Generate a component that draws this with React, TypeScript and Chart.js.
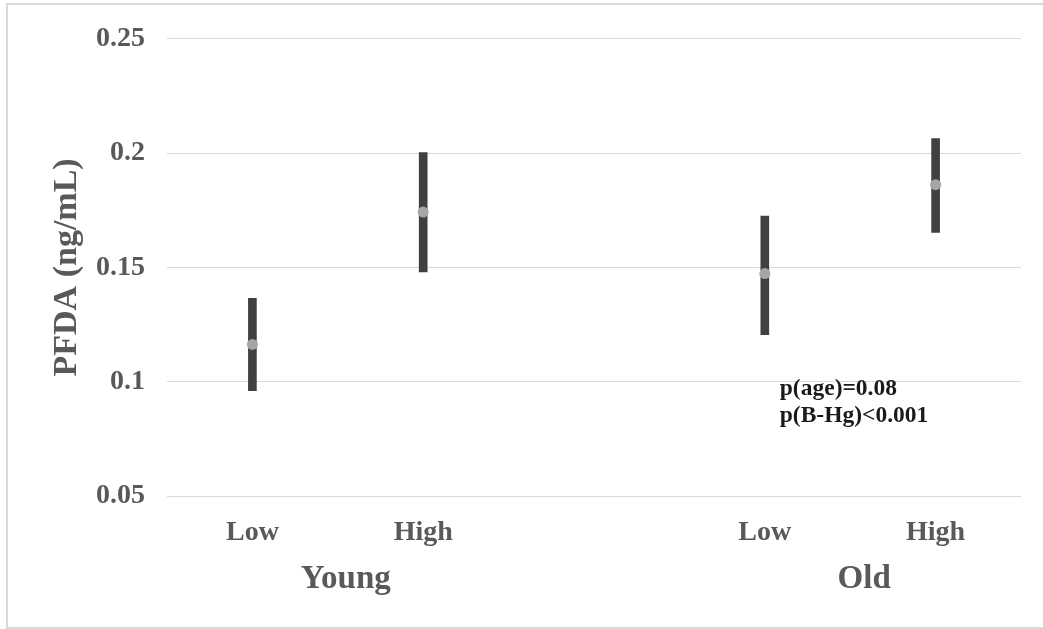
import React, { useEffect, useRef } from "react";
import { Chart, registerables } from "chart.js";

Chart.register(...registerables);

const categories = ["Low", "High", "Low", "High"];
const groups = ["Young", "Old"];
const means = [0.1163, 0.1742, 0.1473, 0.1862];
const lower = [0.0961, 0.148, 0.1206, 0.1653];
const upper = [0.1365, 0.2002, 0.1725, 0.2064];
const yTicks = [0.05, 0.1, 0.15, 0.2, 0.25];
const annotationLines = ["p(age)=0.08", "p(B-Hg)<0.001"];
const yTitle = "PFDA (ng/mL)";

const FONT = "'Liberation Serif', 'Times New Roman', serif";
const GREY_TEXT = "#595959";

// Insert an empty slot between the two groups
const withGap = <T,>(arr: T[], gap: T): T[] => [arr[0], arr[1], gap, arr[2], arr[3]];

const labels = withGap(categories, "");
const barData = withGap(
  categories.map((_, i) => [lower[i], upper[i]] as [number, number]),
  null as any
);
const meanData = withGap(means, null as any);

const groupShift = [8, 14];

const overlayPlugin = {
  id: "overlay",
  afterDraw(chart: any) {
    const { ctx, chartArea } = chart;
    const x = chart.scales.x;
    const y = chart.scales.y;
    ctx.save();
    ctx.fillStyle = GREY_TEXT;
    ctx.font = `bold 33px ${FONT}`;
    ctx.textAlign = "center";
    ctx.textBaseline = "alphabetic";
    groups.forEach((g, i) => {
      const a = x.getPixelForValue(i * 3);
      const b = x.getPixelForValue(i * 3 + 1);
      ctx.fillText(g, (a + b) / 2 + groupShift[i], chartArea.bottom + 92);
    });
    ctx.fillStyle = "#1a1a1a";
    ctx.font = `bold 23.5px ${FONT}`;
    ctx.textAlign = "left";
    ctx.textBaseline = "middle";
    const ax = x.getPixelForValue(3) + 15;
    const ay = y.getPixelForValue(0.1);
    annotationLines.forEach((t, i) => {
      ctx.fillText(t, ax, ay + 7 + i * 27);
    });
    ctx.restore();
  },
};

export default function App() {
  const ref = useRef<HTMLCanvasElement | null>(null);

  useEffect(() => {
    if (!ref.current) return;
    const chart = new Chart(ref.current, {
      type: "bar",
      data: {
        labels,
        datasets: [
          {
            type: "bar",
            data: barData as any,
            backgroundColor: "#404040",
            borderWidth: 0,
            barThickness: 8,
            order: 2,
          } as any,
          {
            type: "line",
            data: meanData as any,
            showLine: false,
            pointRadius: 5.5,
            pointHoverRadius: 5.5,
            pointBackgroundColor: "#a6a6a6",
            pointBorderWidth: 0,
            borderWidth: 0,
            order: 1,
          } as any,
        ],
      },
      options: {
        animation: false,
        responsive: false,
        devicePixelRatio: 1,
        layout: { padding: { top: 34, right: 22, bottom: 0, left: 0 } },
        plugins: {
          legend: { display: false },
          tooltip: { enabled: false },
        },
        scales: {
          x: {
            offset: true,
            grid: { display: false, drawTicks: false },
            border: { display: false },
            ticks: {
              color: GREY_TEXT,
              font: { family: FONT, size: 28, weight: "bold" },
              padding: 20,
              maxRotation: 0,
              autoSkip: false,
            },
            afterFit: (s: any) => {
              s.height = 133;
            },
          },
          y: {
            min: 0.05,
            max: 0.25,
            afterBuildTicks: (s: any) => {
              s.ticks = yTicks.map((v) => ({ value: v }));
            },
            grid: { color: "#d9d9d9", lineWidth: 1, drawTicks: false },
            border: { display: false },
            ticks: {
              color: GREY_TEXT,
              font: { family: FONT, size: 28, weight: "bold" },
              padding: 22,
              callback: (v: any) => String(+Number(v).toFixed(2)),
            },
            title: {
              display: true,
              text: yTitle,
              color: GREY_TEXT,
              font: { family: FONT, size: 34, weight: "bold" },
              padding: { top: 47, bottom: 0 },
            },
            afterFit: (s: any) => {
              s.width = 167;
            },
          },
        },
      },
      plugins: [overlayPlugin],
    });
    return () => chart.destroy();
  }, []);

  return (
    <div
      style={{
        position: "fixed",
        left: 0,
        top: 0,
        width: 1043,
        height: 629,
        background: "#fff",
        overflow: "hidden",
      }}
    >
      <div
        style={{
          position: "absolute",
          left: 6,
          top: 3,
          width: 1050,
          height: 622,
          border: "2px solid #d9d9d9",
        }}
      />
      <canvas
        ref={ref}
        width={1043}
        height={629}
        style={{ position: "absolute", left: 0, top: 0, width: 1043, height: 629 }}
      />
    </div>
  );
}
